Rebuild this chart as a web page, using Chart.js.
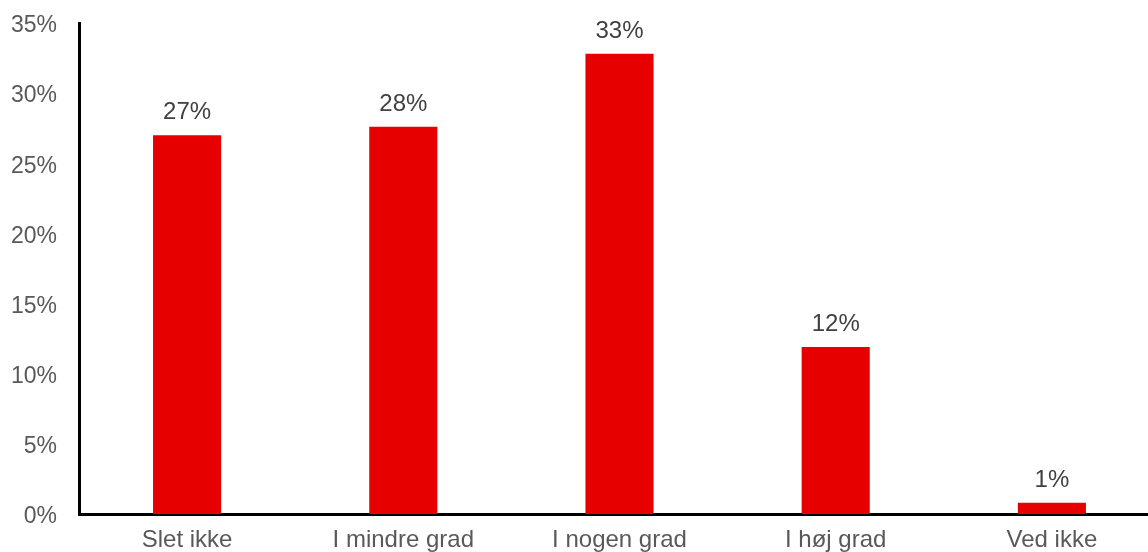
<!DOCTYPE html>
<html>
<head>
<meta charset="utf-8">
<script src="https://cdn.jsdelivr.net/npm/chart.js@4/dist/chart.umd.min.js"></script>
<style>
  html, body { margin: 0; padding: 0; background: #fff; overflow: hidden; }
</style>
</head>
<body>
<canvas id="myChart" width="1160" height="552"></canvas>
<script>
const categories = ["Slet ikke", "I mindre grad", "I nogen grad", "I høj grad", "Ved ikke"];
const shares = [27.0, 27.6, 32.8, 11.9, 0.8]; // percent
const yTicks = [0, 5, 10, 15, 20, 25, 30, 35];

// draws the "27%" labels over each bar
const barLabels = {
  id: "barLabels",
  afterDatasetsDraw(chart) {
    const ctx = chart.ctx;
    const meta = chart.getDatasetMeta(0);
    ctx.save();
    ctx.font = "24px 'Liberation Sans', Arial, sans-serif";
    ctx.fillStyle = "#404040";
    ctx.textAlign = "center";
    ctx.textBaseline = "alphabetic";
    meta.data.forEach((bar, i) => {
      ctx.fillText(Math.round(shares[i]) + "%", bar.x, bar.y - 16);
    });
    ctx.restore();
  }
};

const ctx = document.getElementById("myChart").getContext("2d");

const chart = new Chart(ctx, {
  type: "bar",
  data: {
    labels: categories,
    datasets: [
      {
        data: shares,
        backgroundColor: "#e60000",
        borderWidth: 0,
        barPercentage: 0.315,
        categoryPercentage: 1
      }
    ]
  },
  options: {
    responsive: false,
    animation: false,
    layout: { padding: { top: 23, left: 0, right: 0, bottom: 0 } },
    plugins: {
      legend: { display: false },
      tooltip: { enabled: false }
    },
    scales: {
      x: {
        grid: { display: false, drawTicks: false },
        border: { display: true, color: "#000", width: 3 },
        ticks: {
          color: "#595959",
          padding: 12,
          font: { family: "'Liberation Sans', Arial, sans-serif", size: 24 },
          maxRotation: 0
        },
        afterFit(scale) { scale.height = 38; }
      },
      y: {
        min: 0,
        max: 35,
        grid: { display: false, drawTicks: false },
        border: { display: true, color: "#000", width: 3 },
        afterBuildTicks(scale) {
          scale.ticks = yTicks.map(v => ({ value: v }));
        },
        ticks: {
          color: "#595959",
          padding: 22,
          labelOffset: 3,
          font: { family: "'Liberation Sans', Arial, sans-serif", size: 23 },
          callback: v => v + "%"
        },
        afterFit(scale) {
          scale.width = 79;
          // tick padding would otherwise push the plot top down
          scale.paddingTop = 0;
          scale.paddingBottom = 0;
        }
      }
    }
  },
  plugins: [barLabels]
});
</script>
</body>
</html>
